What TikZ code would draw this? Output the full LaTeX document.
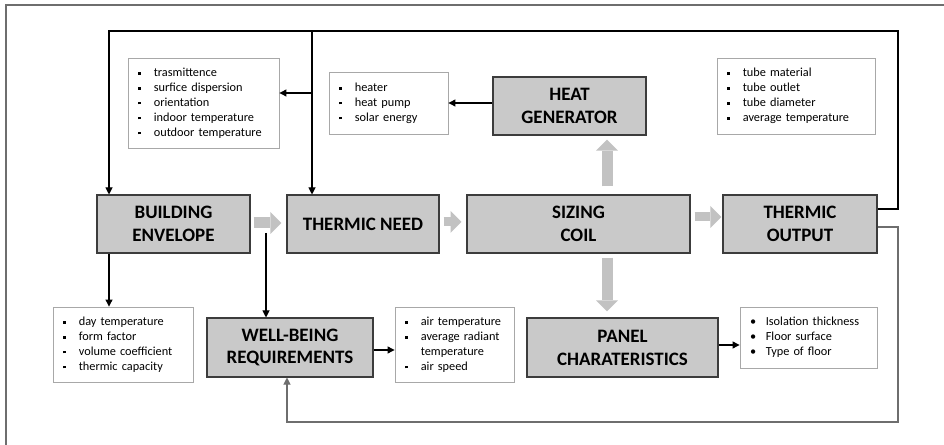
\documentclass[tikz,border=0pt]{standalone}
\usepackage{fontspec}
\setmainfont{Carlito}
\usetikzlibrary{arrows.meta}

\definecolor{boxgray}{HTML}{C9C9C9}
\definecolor{fatgray}{HTML}{C2C2C2}
\definecolor{edgegray}{HTML}{3C3C3C}
\definecolor{framegray}{HTML}{6E6E6E}
\definecolor{infoedge}{HTML}{A8A8A8}

\newcommand{\sq}{\makebox[9pt][l]{\rule[0.3ex]{1.5pt}{1.5pt}}}
\newcommand{\rd}{\makebox[9pt][l]{\textbullet}}
\newcommand{\cont}{\hspace*{9pt}}

\begin{document}
\begin{tikzpicture}[x=0.02cm,y=-0.02cm,
	block/.style={draw=edgegray,fill=boxgray,line width=0.6pt,minimum height=11.6mm,align=center,font=\fontsize{10.8}{13}\selectfont\bfseries},
	info/.style={draw=infoedge,fill=white,line width=0.5pt,inner xsep=2mm,text width=#1,align=left,font=\fontsize{7}{8.5}\selectfont},
	link/.style={draw=black,line width=0.6pt,-{Triangle[length=4pt,width=4pt]}},
	fat/.style={draw=fatgray,line width=2.2mm,-{Triangle[length=2.2mm,width=4.4mm,line width=0pt]}}]
	\useasboundingbox (0,0) rectangle (944,445);
	\clip (0,0) rectangle (944,445);
	\draw[framegray,line width=0.7pt] (6,450) -- (6,5) -- (950,5);

	% main chain
	\node[block,minimum width=30.6mm] (env) at (173.5,224) {BUILDING\\ENVELOPE};
	\node[block,minimum width=30.4mm] (need) at (363,224) {THERMIC NEED};
	\node[block,minimum width=44.6mm] (coil) at (578.5,224) {SIZING\\COIL};
	\node[block,minimum width=30.8mm] (out) at (800,224) {THERMIC\\OUTPUT};
	\node[block,minimum width=30.6mm] (gen) at (569.5,106) {HEAT\\GENERATOR};
	\node[block,minimum width=33.2mm,minimum height=11.8mm] (well) at (290,347.5) {WELL-BEING\\REQUIREMENTS};
	\node[block,minimum width=38.2mm,minimum height=11.8mm] (panel) at (622.5,347.5) {PANEL\\CHARATERISTICS};

	% parameter lists
	\node[info=26.2mm,minimum height=18mm] (trasm) at (203.5,103)
		{\sq trasmittence\\\sq surfice dispersion\\\sq orientation\\\sq indoor temperature\\\sq outdoor temperature};
	\node[info=19.8mm,minimum height=12.4mm] (heater) at (388.5,103)
		{\sq heater\\\sq heat pump\\\sq solar energy};
	\node[info=27.6mm,minimum height=15.2mm] (tube) at (796,96)
		{\sq tube material\\\sq tube outlet\\\sq tube diameter\\\sq average temperature};
	\node[info=24mm,minimum height=15mm] (day) at (123,344.5)
		{\sq day temperature\\\sq form factor\\\sq volume coefficient\\\sq thermic capacity};
	\node[info=19.8mm,minimum height=15mm] (air) at (454.5,344.5)
		{\sq air temperature\\\sq\mbox{average radiant}\\\cont temperature\\\sq air speed};
	\node[info=23.4mm,minimum height=12.2mm] (iso) at (808.5,337.5)
		{\rd Isolation thickness\\\rd Floor surface\\\rd Type of floor};

	\coordinate (loopTop) at (898,31);
	\coordinate (loopBot) at (898,422);
	\coordinate (split) at (312,31);
	\coordinate (branch) at (312,93);
	\coordinate (feed) at (266,233);

	% big arrows
	\draw[fat,shorten <=0.6mm,shorten >=1mm] (env.east |- 0,223) -- (need.west |- 0,223);
	\draw[fat,line width=1.8mm,shorten <=0.8mm,shorten >=1mm] (need.east |- 0,222) -- (coil.west |- 0,222);
	\draw[fat,line width=1.8mm,shorten <=0.8mm,shorten >=0.2mm] (coil.east |- 0,217) -- (out.west |- 0,217);
	\draw[fat,shorten <=1.6mm,shorten >=0.8mm] (coil.north -| 607,0) -- (gen.south -| 607,0);
	\draw[fat,shorten <=0.8mm,shorten >=1.2mm] (coil.south -| 607,0) -- (panel.north -| 607,0);

	% thin links
	\draw[link] (out.east |- 0,209) -| (loopTop) -| (env.north -| 109,0);
	\draw[link] (split) -- (need.north -| split);
	\draw[link] (branch) -- (branch -| trasm.east);
	\draw[link] (gen.west |- 0,103) -- (heater.east |- 0,103);
	\draw[link] (env.south -| 109,0) -- (day.north -| 109,0);
	\draw[link] (feed) -- (well.north -| feed);
	\draw[link] (well.east |- 0,350) -- (air.west |- 0,350);
	\draw[link] (panel.east |- 0,345) -- (iso.west |- 0,345);
	\draw[link,draw=framegray] (out.east |- 0,227) -| (loopBot) -| (well.south -| 287,0);
\end{tikzpicture}
\end{document}
